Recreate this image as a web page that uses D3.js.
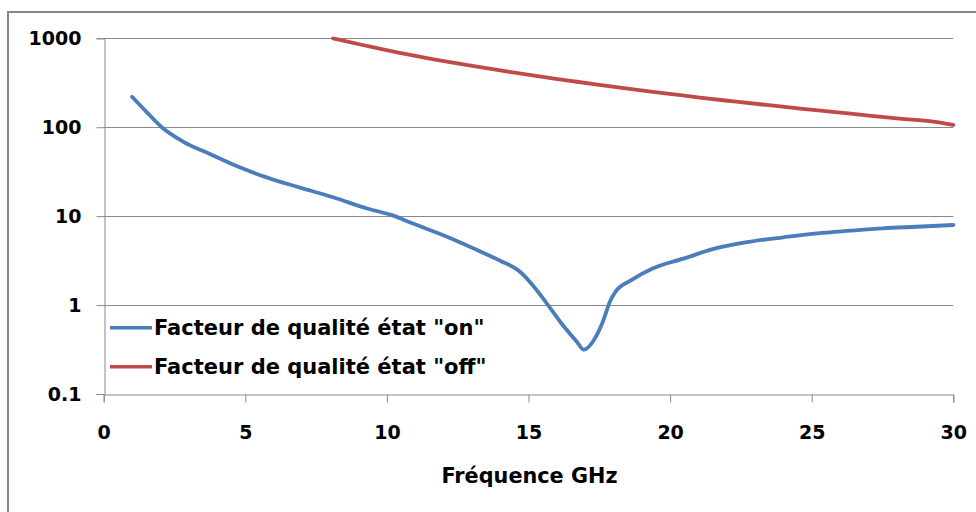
<!DOCTYPE html>
<html>
<head>
<meta charset="utf-8">
<script src="https://cdn.jsdelivr.net/npm/d3@7"></script>
<style>
  html, body { margin: 0; padding: 0; background: #fff; }
  svg { display: block; }
  text { font-family: "DejaVu Sans", sans-serif; font-weight: bold; fill: #000; }
</style>
</head>
<body>
<svg id="chart" width="976" height="512"></svg>
<script>
// Frequency (GHz) and quality factor, "on" state
const freqOn = [1.0, 1.5, 2.05, 2.8, 3.75, 4.8, 5.75, 6.9, 8.1, 9.3, 10.2, 10.9, 12.1, 13.3, 14.0, 14.7, 15.2, 15.65, 16.2, 16.7, 16.95, 17.3, 17.6, 17.9, 18.1, 18.6, 19.4, 20.5, 21.6, 22.8, 24.0, 25.2, 26.35, 27.5, 28.7, 30.0];
const qOn    = [220, 150, 100, 69, 50, 35.4, 27.3, 21.1, 16.3, 12.2, 10.2, 8.3, 5.9, 4.0, 3.15, 2.37, 1.6, 1.04, 0.6, 0.39, 0.315, 0.40, 0.62, 1.14, 1.45, 1.88, 2.59, 3.35, 4.34, 5.15, 5.78, 6.41, 6.86, 7.29, 7.6, 7.95];

// Frequency (GHz) and quality factor, "off" state
const freqOff = [8.1, 9.3, 10.45, 11.65, 12.8, 14.0, 15.15, 16.35, 17.5, 18.7, 19.9, 21.05, 22.25, 23.4, 24.6, 25.75, 26.95, 28.1, 29.3, 30.0];
const qOff    = [1000, 819, 684, 581, 501, 435, 382, 337, 299, 266, 239, 215, 195, 178, 162, 149, 136, 125, 115.5, 106];

const xTicks = [0, 5, 10, 15, 20, 25, 30];
const yTicks = [0.1, 1, 10, 100, 1000];
const seriesNames = ['Facteur de qualité état "on"', 'Facteur de qualité état "off"'];
const seriesColors = ["#4a7ebb", "#be4b48"];
const xTitle = "Fréquence GHz";

const svg = d3.select("#chart");
const plot = { left: 103.7, right: 953.3, top: 38.3, bottom: 394 };

const x = d3.scaleLinear().domain([0, 30]).range([plot.left, plot.right]);
const y = d3.scaleLog().domain([0.1, 1000]).range([plot.bottom, plot.top]);

const axisColor = "#898989";

// outer frame (left and top edges fall inside the page)
svg.append("path")
  .attr("d", "M8,520 L8,12 L980,12")
  .attr("fill", "none").attr("stroke", "#878787").attr("stroke-width", 2);

// horizontal gridlines
svg.append("g").selectAll("line").data(yTicks.slice(1)).join("line")
  .attr("x1", plot.left).attr("x2", plot.right)
  .attr("y1", d => Math.round(y(d)) + 0.5).attr("y2", d => Math.round(y(d)) + 0.5)
  .attr("stroke", axisColor).attr("stroke-width", 1);

function styleAxis(g, size) {
  g.select(".domain").attr("stroke", axisColor);
  g.selectAll(".tick line").attr("stroke", axisColor);
  g.selectAll(".tick text")
    .attr("font-size", size)
    .attr("font-family", "DejaVu Sans")
    .attr("font-weight", "bold")
    .attr("fill", "#000");
}

// y axis
const yAxis = d3.axisLeft(y).tickValues(yTicks).tickFormat(d => String(d)).tickSize(8).tickPadding(15);
const gy = svg.append("g").attr("transform", `translate(${Math.round(plot.left) + 0.5},0)`).call(yAxis);
styleAxis(gy, 19);

// x axis
const xAxis = d3.axisBottom(x).tickValues(xTicks).tickSize(8).tickPadding(23);
const gx = svg.append("g").attr("transform", `translate(0,${Math.round(plot.bottom) + 0.5})`).call(xAxis);
styleAxis(gx, 19);

// x title
svg.append("text").attr("x", (plot.left + plot.right) / 2 + 1).attr("y", 483.3)
  .attr("text-anchor", "middle").attr("font-size", 20.8).text(xTitle);

// series, clipped to the plot area
svg.append("clipPath").attr("id", "plotclip").append("rect")
  .attr("x", plot.left).attr("y", plot.top - 2)
  .attr("width", plot.right - plot.left + 4).attr("height", plot.bottom - plot.top + 2);

const line = d3.line().x(d => x(d[0])).y(d => y(d[1])).curve(d3.curveMonotoneX);
const series = [d3.zip(freqOn, qOn), d3.zip(freqOff, qOff)];
svg.append("g").attr("clip-path", "url(#plotclip)").selectAll("path").data(series).join("path")
  .attr("d", line)
  .attr("fill", "none")
  .attr("stroke", (d, i) => seriesColors[i])
  .attr("stroke-width", 3.8)
  .attr("stroke-linecap", "round")
  .attr("stroke-linejoin", "round");

// legend
const lg = svg.append("g").selectAll("g").data(seriesNames).join("g")
  .attr("transform", (d, i) => `translate(110,${327.8 + i * 39})`);
lg.append("line").attr("x1", 0).attr("x2", 42).attr("y1", 0).attr("y2", 0)
  .attr("stroke", (d, i) => seriesColors[i]).attr("stroke-width", 3.5);
lg.append("text").attr("x", 44).attr("y", 7.4).attr("font-size", 21).text(d => d);
</script>
</body>
</html>
